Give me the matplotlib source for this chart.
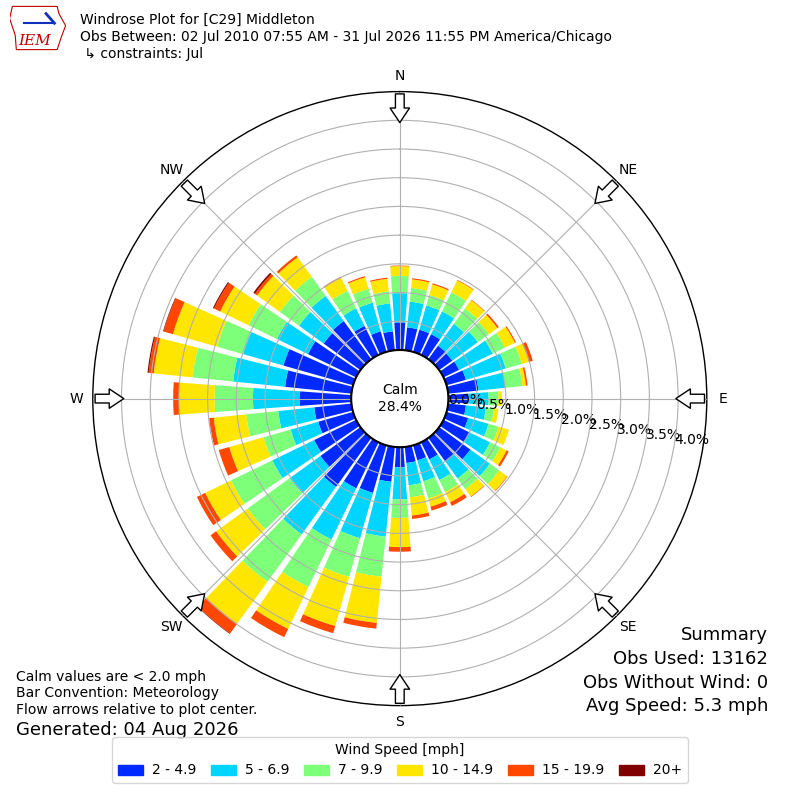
import numpy as np
import matplotlib
matplotlib.use("Agg")
import matplotlib.pyplot as plt
from matplotlib.patches import Patch, Polygon

# wind directions (deg, from north, clockwise) and frequency (%) per speed bin
directions = np.arange(0, 360, 10)
speed_labels = ["2 - 4.9", "5 - 6.9", "7 - 9.9", "10 - 14.9", "15 - 19.9", "20+"]

s_2_5 = [0.48, 0.40, 0.40, 0.40, 0.29, 0.28, 0.30, 0.35, 0.53, 0.35, 0.31, 0.39,
         0.50, 0.67, 0.51, 0.33, 0.27, 0.28, 0.35, 0.61, 0.86, 0.89, 1.05, 0.86,
         0.81, 0.63, 0.65, 0.90, 1.16, 1.26, 0.93, 0.79, 0.82, 0.56, 0.37, 0.33]
s_5_7 = [0.51, 0.45, 0.44, 0.44, 0.47, 0.55, 0.65, 0.72, 0.47, 0.35, 0.35, 0.37,
         0.40, 0.42, 0.36, 0.40, 0.38, 0.39, 0.56, 0.96, 0.82, 0.99, 1.02, 0.66,
         0.81, 0.50, 0.63, 0.81, 0.91, 0.73, 0.60, 0.53, 0.54, 0.34, 0.52, 0.49]
s_7_10 = [0.30, 0.24, 0.19, 0.37, 0.33, 0.24, 0.24, 0.29, 0.30, 0.17, 0.14, 0.18,
          0.20, 0.20, 0.23, 0.23, 0.31, 0.21, 0.32, 0.70, 0.70, 0.92, 1.02, 0.90,
          0.80, 0.49, 0.56, 0.67, 0.71, 0.47, 0.55, 0.41, 0.41, 0.34, 0.25, 0.21]
s_10_15 = [0.17, 0.15, 0.19, 0.23, 0.18, 0.18, 0.19, 0.13, 0.06, 0.06, 0.08, 0.19,
           0.12, 0.17, 0.16, 0.20, 0.15, 0.32, 0.51, 0.81, 0.89, 0.81, 0.90, 0.68,
           0.50, 0.62, 0.57, 0.62, 0.68, 0.80, 0.55, 0.49, 0.42, 0.25, 0.21, 0.22]
s_15_20 = [0.01, 0.02, 0.02, 0.01, 0.01, 0.03, 0.02, 0.07, 0.03, 0.00, 0.00, 0.00,
           0.04, 0.01, 0.01, 0.07, 0.07, 0.06, 0.08, 0.10, 0.13, 0.16, 0.21, 0.12,
           0.16, 0.19, 0.08, 0.10, 0.09, 0.17, 0.12, 0.05, 0.04, 0.02, 0.02, 0.02]
s_20_up = [0.00, 0.00, 0.00, 0.00, 0.00, 0.00, 0.00, 0.00, 0.00, 0.00, 0.00, 0.00,
           0.00, 0.00, 0.00, 0.00, 0.00, 0.00, 0.00, 0.00, 0.00, 0.00, 0.01, 0.00,
           0.00, 0.00, 0.00, 0.00, 0.02, 0.01, 0.02, 0.03, 0.00, 0.00, 0.00, 0.00]
bins = [s_2_5, s_5_7, s_7_10, s_10_15, s_15_20, s_20_up]

calm_pct = 28.4
rticks = np.arange(0, 4.01, 0.5)
compass = ["N", "NE", "E", "SE", "S", "SW", "W", "NW"]

colors = plt.cm.jet(np.linspace(0, 1, 7)[1:])

fig = plt.figure(figsize=(8, 8), dpi=100)
ax = fig.add_axes([0.116, 0.118, 0.7675, 0.7675], projection="polar")
ax.set_theta_zero_location("N")
ax.set_theta_direction(-1)
ax.set_ylim(0, 4.5)
ax.set_rorigin(-0.847)
ax.set_axisbelow(False)

theta = np.deg2rad(directions)
width = np.deg2rad(8.3)
bottom = np.zeros(len(directions))
for vals, c in zip(bins, colors):
    vals = np.array(vals)
    ax.bar(theta, vals, width=width, bottom=bottom, color=c, linewidth=0, zorder=2)
    bottom += vals

# grid (drawn above the bars, as in the original)
ax.set_yticks(rticks)
ax.set_yticklabels(["%.1f%%" % v for v in rticks], fontsize=10)
ax.set_rlabel_position(100)
for lab in ax.get_yticklabels():
    lab.set_ha("left")
    lab.set_va("bottom")
ax.set_xticks(np.deg2rad(np.arange(0, 360, 45)))
ax.set_xticklabels([])
ax.grid(True, color="#b0b0b0", lw=0.8)
ax.spines["polar"].set_linewidth(1.0)

# calm circle
tt = np.linspace(0, 2 * np.pi, 361)
ax.plot(tt, np.zeros_like(tt), color="black", lw=1.5, clip_on=False, zorder=3)
ax.text(0, -0.847, "Calm\n%.1f%%" % calm_pct, ha="center", va="center",
        fontsize=10, zorder=4)

# compass labels and flow arrows
for i, name in enumerate(compass):
    ang = np.deg2rad(i * 45)
    ax.text(ang, 4.78, name, ha="center", va="center", fontsize=10, clip_on=False)
    ax.annotate("", xy=(ang, 3.96), xytext=(ang, 4.46), annotation_clip=False,
                arrowprops=dict(arrowstyle="simple,head_length=0.75,head_width=1.0,tail_width=0.45",
                                mutation_scale=14, fc="white", ec="black", lw=1,
                                shrinkA=0, shrinkB=0), zorder=5)

# header
fig.text(0.1, 0.975, "Windrose Plot for [C29] Middleton", fontsize=10, va="center")
fig.text(0.1, 0.954, "Obs Between: 02 Jul 2010 07:55 AM - 31 Jul 2026 11:55 PM America/Chicago",
         fontsize=10, va="center")
fig.text(0.1, 0.9325, " \u21b3 constraints: Jul", fontsize=10, va="center")

# logo
lax = fig.add_axes([0.012, 0.935, 0.07, 0.06])
lax.set_xlim(0, 1)
lax.set_ylim(0, 1)
lax.axis("off")
lax.add_patch(Polygon([[0.05, 0.95], [0.85, 0.95], [0.88, 0.8], [1.0, 0.55], [0.92, 0.3],
                       [0.85, 0.05], [0.12, 0.05], [0.1, 0.35], [0.0, 0.7]],
                      closed=True, fill=False, ec="#c00000", lw=0.8))
lax.plot([0.25, 0.8], [0.6, 0.6], color="#1030c0", lw=1.5)
lax.plot([0.65, 0.8], [0.8, 0.6], color="#1030c0", lw=2)
lax.text(0.45, 0.22, "IEM", color="#c00000", fontsize=11, family="serif",
         style="italic", ha="center", va="center")

# footers
fig.text(0.02, 0.154, "Calm values are < 2.0 mph", fontsize=10, va="center")
fig.text(0.02, 0.134, "Bar Convention: Meteorology", fontsize=10, va="center")
fig.text(0.02, 0.1125, "Flow arrows relative to plot center.", fontsize=10, va="center")
fig.text(0.02, 0.0875, "Generated: 04 Aug 2026", fontsize=13, va="center")

fig.text(0.96, 0.206, "Summary", fontsize=13, ha="right", va="center")
fig.text(0.96, 0.176, "Obs Used: 13162", fontsize=13, ha="right", va="center")
fig.text(0.96, 0.146, "Obs Without Wind: 0", fontsize=13, ha="right", va="center")
fig.text(0.96, 0.1175, "Avg Speed: 5.3 mph", fontsize=13, ha="right", va="center")

handles = [Patch(color=c) for c in colors]
fig.legend(handles, speed_labels, ncol=6, loc="lower center",
           bbox_to_anchor=(0.5, 0.0125), title="Wind Speed [mph]",
           fontsize=10, title_fontsize=10, handlelength=1.8,
           handletextpad=0.65, columnspacing=1.05)

fig.savefig("out.png", dpi=100)
